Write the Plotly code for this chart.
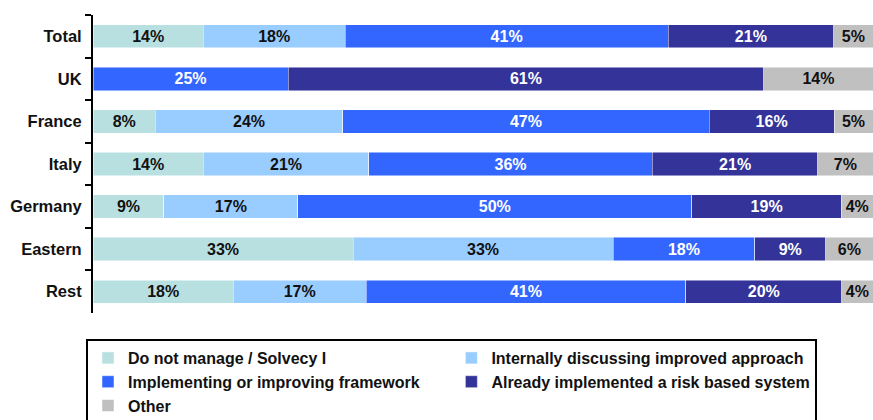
import plotly.graph_objects as go

categories = ["Total", "UK", "France", "Italy", "Germany", "Eastern", "Rest"]
series_names = [
    "Do not manage / Solvecy I",
    "Internally discussing improved approach",
    "Implementing or improving framework",
    "Already implemented a risk based system",
    "Other",
]
do_not_manage = [14, 0, 8, 14, 9, 33, 18]
internally_discussing = [18, 0, 24, 21, 17, 33, 17]
implementing = [41, 25, 47, 36, 50, 18, 41]
already_implemented = [21, 61, 16, 21, 19, 9, 20]
other = [5, 14, 5, 7, 4, 6, 4]

series_values = [do_not_manage, internally_discussing, implementing, already_implemented, other]
colors = ["#B9E0E0", "#99CCFF", "#3366FF", "#333399", "#C0C0C0"]
text_colors = ["#111111", "#111111", "#FFFFFF", "#FFFFFF", "#111111"]

FONT = "Liberation Sans, Arial"

fig = go.Figure()
for name, vals, col, tcol in zip(series_names, series_values, colors, text_colors):
    fig.add_trace(go.Bar(
        y=categories,
        x=vals,
        name=name,
        orientation="h",
        marker=dict(color=col, line=dict(color="rgba(255,255,255,0.6)", width=0.8)),
        text=[f"{v}%" if v > 0 else "" for v in vals],
        textposition="inside",
        insidetextanchor="middle",
        textangle=0,
        constraintext="none",
        textfont=dict(color=tcol, size=16, family=FONT, weight="bold"),
        hoverinfo="skip",
    ))

fig.update_layout(
    width=873,
    height=420,
    barmode="stack",
    barnorm="percent",
    bargap=0.45,
    plot_bgcolor="white",
    paper_bgcolor="white",
    margin=dict(l=93, r=0, t=15, b=107, autoexpand=False),
    font=dict(family=FONT, size=15, color="#111111"),
    xaxis=dict(range=[0, 100], visible=False, fixedrange=True),
    yaxis=dict(
        categoryorder="array",
        categoryarray=categories,
        autorange="reversed",
        showline=True,
        linecolor="black",
        linewidth=2,
        ticks="outside",
        tickson="boundaries",
        ticklen=6,
        tickwidth=2,
        tickcolor="black",
        tickfont=dict(size=16.5, family=FONT, weight="bold"),
        ticklabelstandoff=6,
        showgrid=False,
    ),
    legend=dict(
        orientation="h",
        xref="container",
        yref="container",
        x=86 / 873,
        y=1 - 339 / 420,
        xanchor="left",
        yanchor="top",
        traceorder="normal",
        bordercolor="black",
        borderwidth=2,
        font=dict(size=16, family=FONT, weight="bold"),
        itemwidth=30,
    ),
    showlegend=True,
)

fig.write_html(
    "out.html",
    config={"displayModeBar": False},
    post_script="document.body.style.margin='0';document.body.style.overflow='hidden';",
)
